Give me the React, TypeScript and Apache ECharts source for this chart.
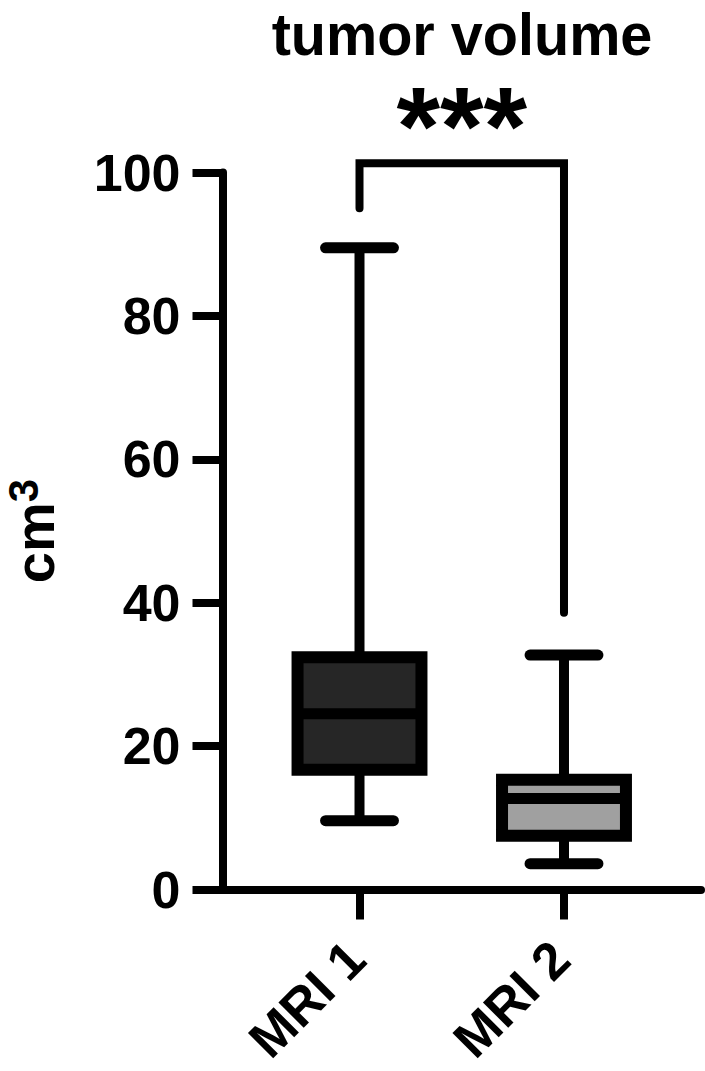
import React, { useEffect, useRef } from 'react';
import * as echarts from 'echarts';

// ---- data ----
const categories = ['MRI 1', 'MRI 2'];
const categoryPositions = [1, 2];
const whiskerMin = [9.6, 3.6];
const q1 = [16.7, 7.5];
const median = [24.5, 12.7];
const q3 = [32.4, 15.3];
const whiskerMax = [89.5, 32.7];
const boxFill = ['#262626', '#a0a0a0'];
const yTicks = [0, 20, 40, 60, 80, 100];
const bracketX = [1, 2];
const bracketTop = 101.3;
const bracketEnds = [95, 38.6];
const sigLabel = '***';
const titleText = 'tumor volume';
const yAxisNameBase = 'cm';
const yAxisNameSup = '3';

const FONT = '"Liberation Sans", Arial, Helvetica, sans-serif';

export default function App() {
  const ref = useRef<HTMLDivElement>(null);
  useEffect(() => {
    document.body.style.margin = '0';
    const chart = echarts.init(ref.current!, null, { renderer: 'svg' });
    const boxData = categoryPositions.map((x, i) => [x, whiskerMin[i], q1[i], median[i], q3[i], whiskerMax[i]]);
    const option: any = {
      animation: false,
      backgroundColor: '#ffffff',
      graphic: [
        {
          type: 'text',
          x: 462,
          y: 34,
          scaleX: 0.96,
          style: {
            text: titleText,
            fontFamily: FONT,
            fontWeight: 'bold',
            fontSize: 60,
            fill: '#000',
            textAlign: 'center',
            textVerticalAlign: 'middle',
          },
        },
      ],
      grid: { left: 222.5, right: 4, top: 172.5, bottom: 181.5, containLabel: false, outerBoundsMode: 'none' },
      xAxis: {
        type: 'value',
        min: 0.33,
        max: 2.67,
        splitLine: { show: false },
        axisLine: { show: true, lineStyle: { color: '#000', width: 8 } },
        axisTick: { show: true, customValues: categoryPositions, length: 30, lineStyle: { color: '#000', width: 8 } },
        axisLabel: {
          customValues: categoryPositions,
          formatter: (v: number) => categories[categoryPositions.indexOf(v)] ?? '',
          rotate: 45,
          margin: 57,
          padding: [0, 5, 0, 0],
          color: '#000',
          fontFamily: FONT,
          fontWeight: 'bold',
          fontSize: 52,
        },
      },
      yAxis: {
        type: 'value',
        min: yTicks[0],
        max: yTicks[yTicks.length - 1],
        interval: yTicks[1] - yTicks[0],
        splitLine: { show: false },
        axisLine: { show: true, lineStyle: { color: '#000', width: 8 } },
        axisTick: { show: true, length: 30, lineStyle: { color: '#000', width: 8 } },
        axisLabel: {
          margin: 42,
          color: '#000',
          fontFamily: FONT,
          fontWeight: 'bold',
          fontSize: 52,
        },
        name: `{a|${yAxisNameBase}}{b|${yAxisNameSup}}`,
        nameLocation: 'middle',
        nameGap: 160,
        nameRotate: 90,
        nameTextStyle: {
          color: '#000',
          fontFamily: FONT,
          fontWeight: 'bold',
          fontSize: 56,
          rich: {
            a: { fontFamily: FONT, fontWeight: 'bold', fontSize: 56, lineHeight: 70, verticalAlign: 'bottom', color: '#000' },
            b: { fontFamily: FONT, fontWeight: 'bold', fontSize: 42, lineHeight: 42, verticalAlign: 'top', padding: [10, 0, 0, 0], color: '#000' },
          },
        },
      },
      series: [
        {
          type: 'custom',
          clip: false,
          data: boxData,
          renderItem: (params: any, api: any) => {
            const x = api.value(0);
            const bw = api.size([1, 0])[0];
            const half = bw * 0.303;
            const capHalf = bw * 0.166;
            const pMin = api.coord([x, api.value(1)]);
            const pQ1 = api.coord([x, api.value(2)]);
            const pMed = api.coord([x, api.value(3)]);
            const pQ3 = api.coord([x, api.value(4)]);
            const pMax = api.coord([x, api.value(5)]);
            const cx = pMed[0];
            const fill = boxFill[params.dataIndex];
            return {
              type: 'group',
              children: [
                { type: 'line', shape: { x1: cx, y1: pMax[1], x2: cx, y2: pQ3[1] }, style: { stroke: '#000', lineWidth: 10 } },
                { type: 'line', shape: { x1: cx, y1: pQ1[1], x2: cx, y2: pMin[1] }, style: { stroke: '#000', lineWidth: 10 } },
                { type: 'line', shape: { x1: cx - capHalf, y1: pMax[1], x2: cx + capHalf, y2: pMax[1] }, style: { stroke: '#000', lineWidth: 11, lineCap: 'round' } },
                { type: 'line', shape: { x1: cx - capHalf, y1: pMin[1], x2: cx + capHalf, y2: pMin[1] }, style: { stroke: '#000', lineWidth: 11, lineCap: 'round' } },
                { type: 'rect', shape: { x: cx - half, y: pQ3[1], width: half * 2, height: pQ1[1] - pQ3[1] }, style: { fill, stroke: '#000', lineWidth: 12 } },
                { type: 'line', shape: { x1: cx - half, y1: pMed[1], x2: cx + half, y2: pMed[1] }, style: { stroke: '#000', lineWidth: 11 } },
              ],
            };
          },
        },
        {
          type: 'custom',
          clip: false,
          data: [[bracketX[0], bracketX[1], bracketTop, bracketEnds[0], bracketEnds[1]]],
          renderItem: (params: any, api: any) => {
            const a = api.coord([api.value(0), api.value(3)]);
            const b = api.coord([api.value(0), api.value(2)]);
            const c = api.coord([api.value(1), api.value(2)]);
            const d = api.coord([api.value(1), api.value(4)]);
            return {
              type: 'group',
              children: [
                { type: 'polyline', shape: { points: [a, b, c, d] }, style: { stroke: '#000', lineWidth: 8, fill: 'none', lineCap: 'round', lineJoin: 'miter' } },
                {
                  type: 'text',
                  x: (b[0] + c[0]) / 2,
                  y: b[1] - 37,
                  style: {
                    text: sigLabel,
                    fontFamily: FONT,
                    fontWeight: 'bold',
                    fontSize: 112,
                    fill: '#000',
                    textAlign: 'center',
                    textVerticalAlign: 'middle',
                  },
                },
              ],
            };
          },
        },
      ],
    };
    chart.setOption(option);
    return () => chart.dispose();
  }, []);
  return <div ref={ref} style={{ width: 705, height: 1071 }} />;
}
